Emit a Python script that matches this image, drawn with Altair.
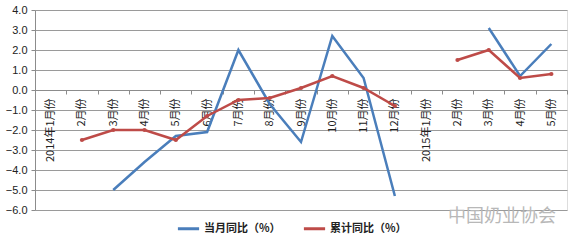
import altair as alt
import pandas as pd

labels = ["2014年1月份", "2月份", "3月份", "4月份", "5月份", "6月份", "7月份", "8月份",
          "9月份", "10月份", "11月份", "12月份", "2015年1月份", "2月份", "3月份", "4月份", "5月份"]
monthly = [None, None, -5.0, -3.6, -2.3, -2.1, 2.0, -0.7, -2.6, 2.7, 0.6, -5.3,
           None, None, 3.1, 0.7, 2.3]
cumulative = [None, -2.5, -2.0, -2.0, -2.5, -1.3, -0.5, -0.4, 0.1, 0.7, 0.1, -0.8,
              None, 1.5, 2.0, 0.6, 0.8]
series_names = ["当月同比（%）", "累计同比（%）"]
series_colors = ["#4A7EBB", "#BE4B48"]
y_ticks = [4, 3, 2, 1, 0, -1, -2, -3, -4, -5, -6]
watermark = "中国奶业协会"

rows = []
for i in range(len(labels)):
    rows.append({"idx": i, "series": series_names[0], "value": monthly[i]})
    rows.append({"idx": i, "series": series_names[1], "value": cumulative[i]})
df = pd.DataFrame(rows)

W, H = 532, 200
ymin, ymax = -6, 4
zero_px = H * (ymax - 0) / (ymax - ymin)
x_offset = -(H - zero_px)

FONT = "Noto Sans CJK SC"
NUMFONT = "Liberation Sans"
label_arr = "[" + ",".join("'" + s + "'" for s in labels) + "]"

x_enc = alt.X("idx:O", title=None,
              scale=alt.Scale(paddingInner=0, paddingOuter=0),
              axis=alt.Axis(labelExpr=label_arr + "[datum.value]", labelAngle=270,
                            labelAlign="right", labelBaseline="middle",
                            labelFont=FONT, labelFontSize=11, labelColor="#222222",
                            labelPadding=4, tickSize=4, tickBand="extent",
                            tickColor="#8C8C8C", domainColor="#8C8C8C",
                            labelOverlap=False, offset=x_offset, grid=False))
y_enc = alt.Y("value:Q", title=None,
              scale=alt.Scale(domain=[ymin, ymax], nice=False, zero=False),
              axis=alt.Axis(values=y_ticks, format=".1f", labelFont=NUMFONT,
                            labelFontSize=11, labelColor="#222222", tickSize=4,
                            tickColor="#8C8C8C", domainColor="#8C8C8C",
                            gridColor="#9A9A9A", gridWidth=1, labelPadding=4,
                            labelOverlap=False, labelFlush=False))
color_scale = alt.Scale(domain=series_names, range=series_colors)
color_enc = alt.Color("series:N", title=None, scale=color_scale,
                      legend=alt.Legend(orient="none", legendX=141, legendY=206,
                                        direction="horizontal", symbolType="stroke",
                                        symbolStrokeWidth=3, symbolSize=450,
                                        labelFont=FONT, labelFontSize=11,
                                        labelColor="#222222", labelFontWeight="bold",
                                        columnPadding=16, labelOffset=3))

base = alt.Chart(df)
lines = base.mark_line(strokeWidth=2.5).encode(x=x_enc, y=y_enc, color=color_enc)
pts = base.transform_filter(alt.datum.series == series_names[1]).transform_filter(
    "isValid(datum.value)").mark_point(filled=True, size=18, opacity=1).encode(
    x=x_enc, y=y_enc, color=color_enc)
wm = alt.Chart(pd.DataFrame({"t": [watermark]})).mark_text(
    font=FONT, fontSize=18, color="#B8B8B8", align="left", baseline="middle").encode(
    text="t:N", x=alt.value(413), y=alt.value(207))

chart = alt.layer(lines, pts, wm).properties(
    width=W, height=H,
    autosize=alt.AutoSizeParams(type="none"),
    padding={"left": 35, "top": 10, "right": 9, "bottom": 37},
).configure_view(stroke=None).configure(background="white")

chart.save("out.html", embed_options={"renderer": "svg", "actions": False})
